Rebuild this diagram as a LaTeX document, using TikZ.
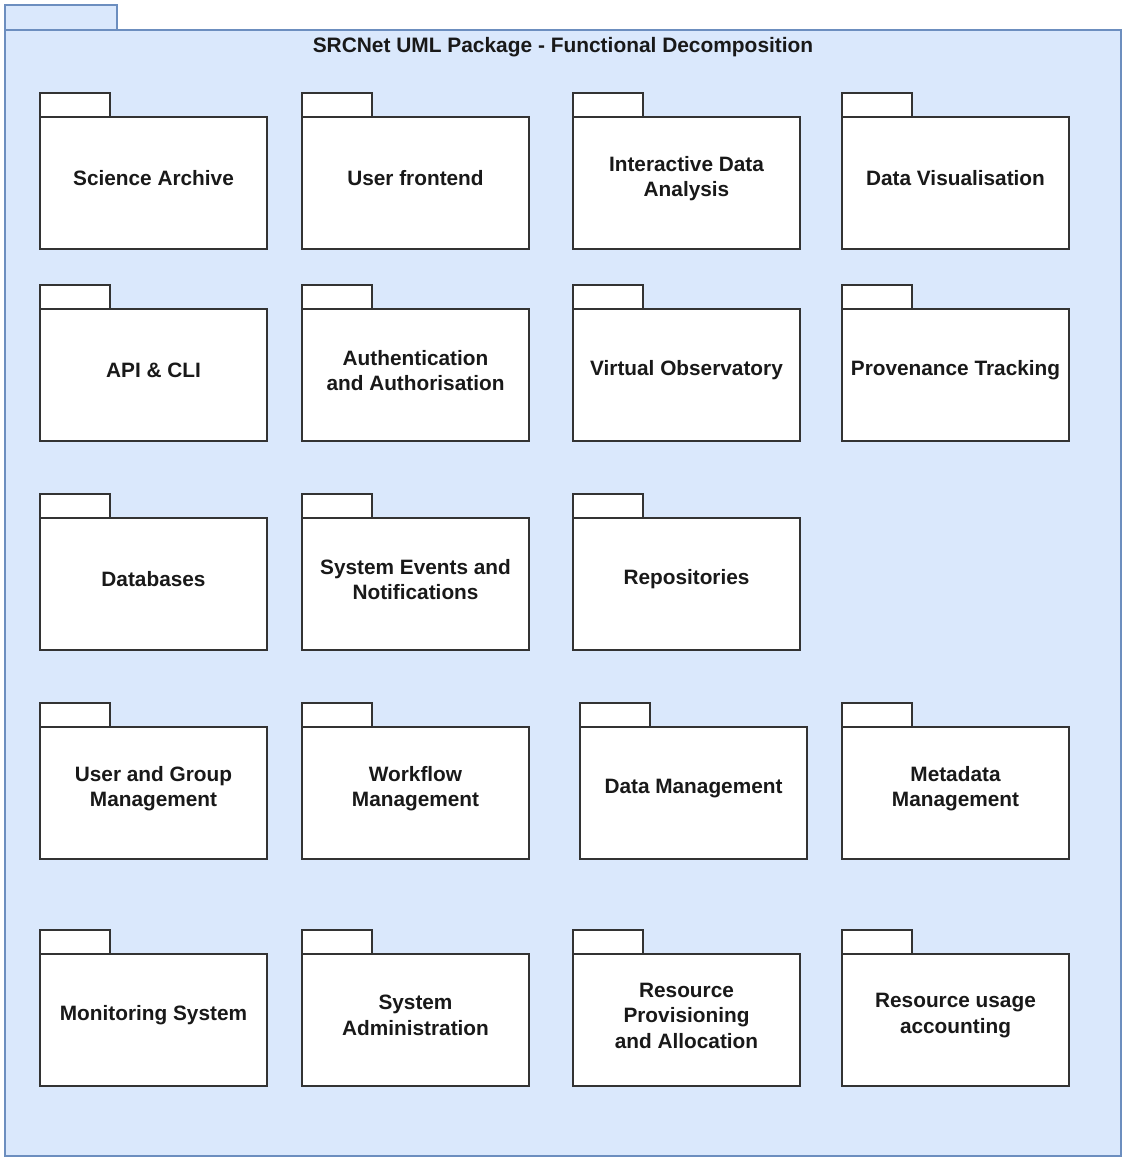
\documentclass[tikz,border=0pt]{standalone}
\usepackage{fontspec}
\setmainfont{Liberation Sans}
\begin{document}
\begin{tikzpicture}[x=1pt,y=-1pt,
  outerblue/.style={draw=outline, fill=pkgfill, line width=1.6pt},
  pkgbody/.style={draw=pkgline, fill=white, line width=1.8pt, outer sep=0pt,
    minimum width=227pt, minimum height=132pt, inner sep=0pt, anchor=north west},
  pkgtab/.style={draw=pkgline, fill=white, line width=1.8pt, outer sep=0pt,
    minimum width=70pt, minimum height=24pt, inner sep=0pt, anchor=south west},
  pkglabel/.style={align=center, font=\fontsize{20.8}{25.5}\selectfont\bfseries, text=black!90},
  titlelabel/.style={font=\fontsize{20.9}{24}\selectfont\bfseries, text=black!90}
]
\definecolor{outline}{HTML}{6C8EBF}
\definecolor{pkgfill}{HTML}{DAE8FC}
\definecolor{pkgline}{HTML}{333333}

\useasboundingbox (0,0) rectangle (1122,1157);

% enclosing package
\draw[outerblue] (5,5) rectangle (117,30);
\node[outerblue, outer sep=0pt, inner sep=0pt, anchor=north west,
  minimum width=1116pt, minimum height=1126pt] (frame) at (5,30) {};
\node[titlelabel] (title) at (563,47) {SRCNet UML Package - Functional Decomposition};

% one package: name, left x, top of body, label
\newcommand{\umlpkg}[4]{%
  \node[pkgbody] (#1) at (#2,#3) {};
  \node[pkgtab] (#1-tab) at (#1.north west) {};
  \node[pkglabel] (#1-text) at ([yshift=4.5pt]#1.center) {#4};
}

% row 1
\umlpkg{archive}{40}{117}{Science Archive}
\umlpkg{frontend}{302}{117}{User frontend}
\umlpkg{analysis}{573}{117}{Interactive Data\\Analysis}
\umlpkg{visual}{842}{117}{Data Visualisation}
% row 2
\umlpkg{api}{40}{309}{API \& CLI}
\umlpkg{auth}{302}{309}{Authentication\\and Authorisation}
\umlpkg{vo}{573}{309}{Virtual Observatory}
\umlpkg{prov}{842}{309}{Provenance Tracking}
% row 3
\umlpkg{db}{40}{518}{Databases}
\umlpkg{events}{302}{518}{System Events and\\Notifications}
\umlpkg{repos}{573}{518}{Repositories}
% row 4
\umlpkg{users}{40}{727}{User and Group\\Management}
\umlpkg{workflow}{302}{727}{Workflow\\Management}
\umlpkg{datamgmt}{580}{727}{Data Management}
\umlpkg{meta}{842}{727}{Metadata\\Management}
% row 5
\umlpkg{monitor}{40}{954}{Monitoring System}
\umlpkg{sysadmin}{302}{954}{System\\Administration}
\umlpkg{provision}{573}{954}{Resource\\Provisioning\\and Allocation}
\umlpkg{usage}{842}{954}{Resource usage\\accounting}
\end{tikzpicture}
\end{document}
